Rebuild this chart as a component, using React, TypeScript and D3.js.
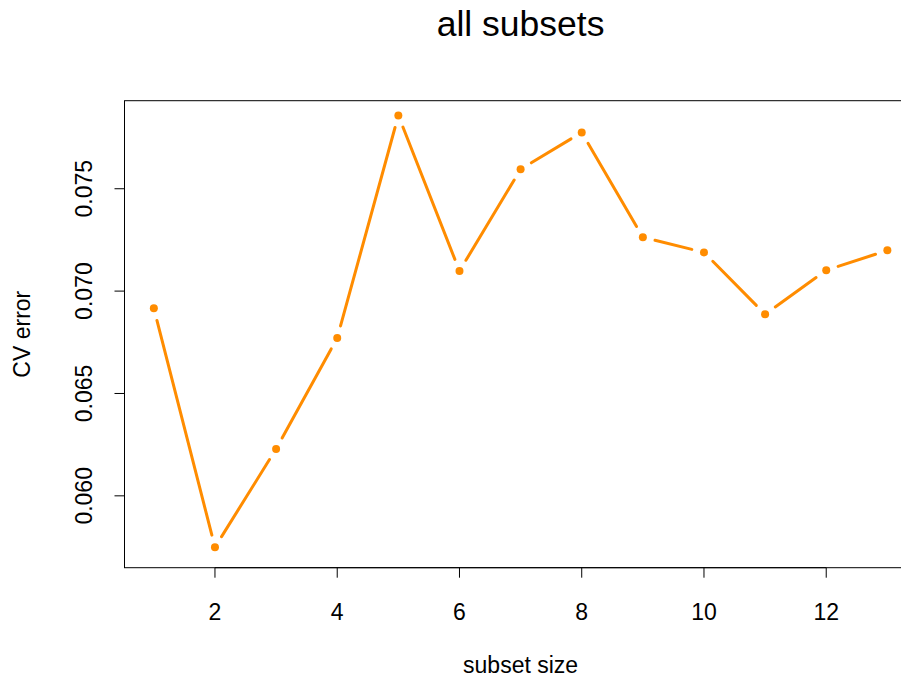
import React from "react";
import * as d3 from "d3";

const subsetSize = [1, 2, 3, 4, 5, 6, 7, 8, 9, 10, 11, 12, 13];
const cvError = [0.06916, 0.05749, 0.06229, 0.06771, 0.07858, 0.07098, 0.07595, 0.07775, 0.07263, 0.07189, 0.06887, 0.07102, 0.07199];
const xTicks = [2, 4, 6, 8, 10, 12];
const yTicks = [0.06, 0.065, 0.07, 0.075];
const yTickLabels = ["0.060", "0.065", "0.070", "0.075"];
const title = "all subsets";
const xLabel = "subset size";
const yLabel = "CV error";

const W = 901;
const H = 681;
const left = 124.5;
const right = 916.7;
const top = 100.7;
const bottom = 567.7;
const COLOR = "#FF8C00";
const FONT = "'Liberation Sans', Arial, Helvetica, sans-serif";

export default function App() {
  const x = d3.scaleLinear().domain([0.52, 13.48]).range([left, right]);
  const y = d3.scaleLinear().domain([0.05649, 0.0793]).range([bottom, top]);
  const pts = subsetSize.map((s, i) => [x(s), y(cvError[i])] as [number, number]);
  const gap = 12.5;
  const segs: { x1: number; y1: number; x2: number; y2: number }[] = [];
  for (let i = 1; i < pts.length; i++) {
    const [x0, y0] = pts[i - 1];
    const [x1, y1] = pts[i];
    const d0 = Math.hypot(x1 - x0, y1 - y0);
    if (d0 > 2 * gap) {
      const f = gap / d0;
      segs.push({
        x1: x0 + f * (x1 - x0),
        y1: y0 + f * (y1 - y0),
        x2: x1 - f * (x1 - x0),
        y2: y1 - f * (y1 - y0),
      });
    }
  }
  const tickLen = 10;
  return (
    <svg width={W} height={H} style={{ position: "absolute", left: 0, top: 0 }} fontFamily={FONT}>
      <rect x={0} y={0} width={W} height={H} fill="white" />
      <text x={(left + right) / 2} y={36} textAnchor="middle" fontSize={35.5} fill="#000">{title}</text>
      <rect x={left} y={top} width={right - left} height={bottom - top} fill="none" stroke="#000" strokeWidth={1} />
      {/* x axis */}
      <line x1={x(xTicks[0])} x2={x(xTicks[xTicks.length - 1])} y1={bottom} y2={bottom} stroke="#000" />
      {xTicks.map((t) => (
        <g key={t}>
          <line x1={x(t)} x2={x(t)} y1={bottom} y2={bottom + tickLen} stroke="#000" />
          <text x={x(t)} y={620} textAnchor="middle" fontSize={23} fill="#000">{t}</text>
        </g>
      ))}
      {/* y axis */}
      <line x1={left} x2={left} y1={y(yTicks[0])} y2={y(yTicks[yTicks.length - 1])} stroke="#000" />
      {yTicks.map((t, i) => (
        <g key={t}>
          <line x1={left - tickLen} x2={left} y1={y(t)} y2={y(t)} stroke="#000" />
          <text transform={`translate(92,${y(t)}) rotate(-90)`} textAnchor="middle" fontSize={23} fill="#000">{yTickLabels[i]}</text>
        </g>
      ))}
      <text x={(left + right) / 2} y={673} textAnchor="middle" fontSize={23} fill="#000">{xLabel}</text>
      <text transform={`translate(30,${(top + bottom) / 2}) rotate(-90)`} textAnchor="middle" fontSize={23} fill="#000">{yLabel}</text>
      {/* lines */}
      {segs.map((s, i) => (
        <line key={i} x1={s.x1} y1={s.y1} x2={s.x2} y2={s.y2} stroke={COLOR} strokeWidth={3} strokeLinecap="round" />
      ))}
      {pts.map(([px, py], i) => (
        <circle key={i} cx={px} cy={py} r={4} fill={COLOR} />
      ))}
    </svg>
  );
}
